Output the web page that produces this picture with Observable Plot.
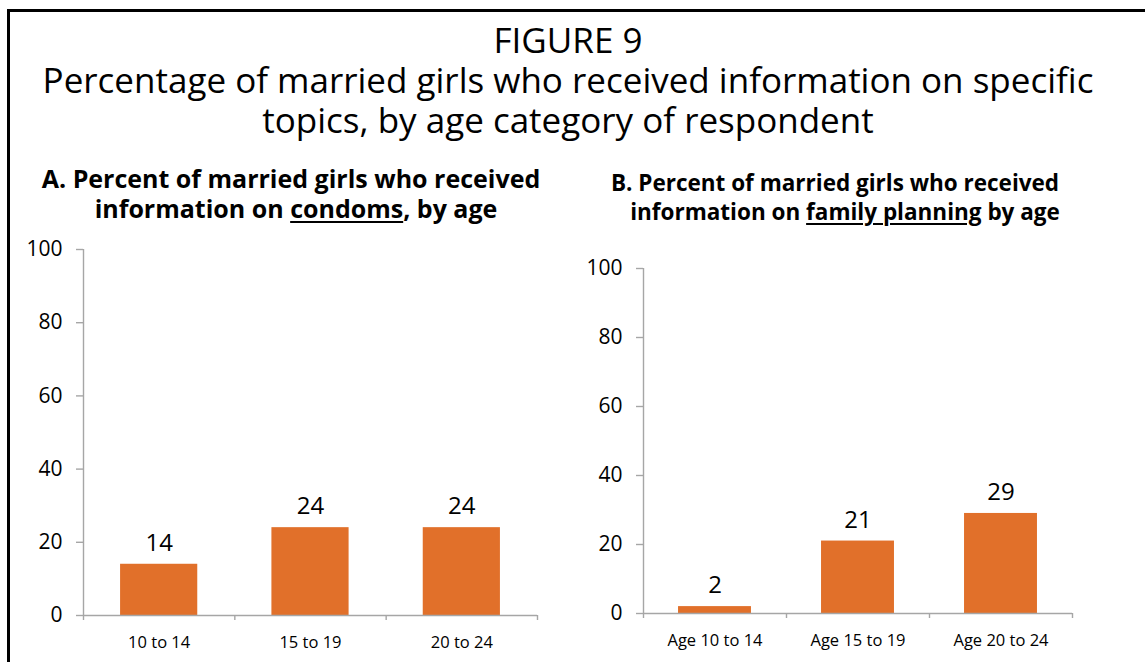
<!DOCTYPE html>
<html>
<head>
<meta charset="utf-8">
<script src="https://cdn.jsdelivr.net/npm/d3@7"></script>
<script src="https://cdn.jsdelivr.net/npm/@observablehq/plot@0.6"></script>
<style>
  html, body { margin: 0; padding: 0; background: #fff; overflow: hidden; }
  #page { position: relative; width: 1145px; height: 662px; overflow: hidden; font-family: "Open Sans", sans-serif; color: #000; }
  #frame { position: absolute; left: 7px; top: 9px; width: 1300px; height: 1000px; border: 3px solid #000; box-sizing: border-box; }
  .t { position: absolute; white-space: nowrap; text-align: center; }
  #head { left: 0; width: 1136px; top: 20px; font-size: 35px; line-height: 40px; }
  .phA { font-size: 25px; font-weight: bold; line-height: 30px; width: 600px; left: -7px; top: 163.3px; }
  .phB { font-size: 22.5px; font-weight: bold; line-height: 29px; width: 600px; left: 540px; top: 167.8px; }
  .t u { text-decoration-thickness: 2px; text-underline-offset: 3px; }
  .s { position: relative; }
  .chart { position: absolute; }
  #chartA { left: 0; top: 230px; }
  #chartB { left: 560px; top: 240px; }
</style>
</head>
<body>
<div id="page">
  <div id="frame"></div>
  <div class="t" id="head">FIGURE 9<br>Percentage of married girls who received information on specific<br>topics, by age category of respondent</div>
  <div class="t phA"><span class="s" style="left:-2px">A. Percent of married girls who received</span><br><span class="s" style="left:3px">information on <u>condoms</u>, by age</span></div>
  <div class="t phB"><span class="s" style="left:-5px">B. Percent of married girls who received</span><br><span class="s" style="left:5px">information on <u>family planning</u> by age</span></div>
  <div class="chart" id="chartA"></div>
  <div class="chart" id="chartB"></div>
</div>
<script>
// ---- Data ----
const categoriesA = ["10 to 14", "15 to 19", "20 to 24"];
const valuesA = [14, 24, 24];
const categoriesB = ["Age 10 to 14", "Age 15 to 19", "Age 20 to 24"];
const valuesB = [2, 21, 29];
const yTicks = [0, 20, 40, 60, 80, 100];

const barColor = "#E1702A";
const axisGray = "#A6A6A6";
const barWidth = 0.51;

function makeChart(cats, vals, dims) {
  const data = cats.map((c, i) => ({i, c, v: vals[i]}));
  return Plot.plot({
    width: dims.width,
    height: dims.height,
    marginLeft: dims.marginLeft,
    marginRight: dims.marginRight,
    marginTop: dims.marginTop,
    marginBottom: dims.marginBottom,
    x: {domain: [0, cats.length], axis: null},
    y: {domain: [0, 100], axis: null},
    style: {fontFamily: "Open Sans", background: "transparent", color: "#000", overflow: "visible"},
    marks: [
      Plot.rectY(data, {
        x1: d => d.i + (1 - barWidth) / 2,
        x2: d => d.i + (1 + barWidth) / 2,
        y1: 0, y2: "v", fill: barColor
      }),
      Plot.ruleY([0], {stroke: axisGray, strokeWidth: 1.4}),
      Plot.ruleX([0], {y1: 0, y2: 100, stroke: axisGray, strokeWidth: 1.4}),
      Plot.axisY({ticks: yTicks, label: null, tickSize: 7, tickPadding: 14, stroke: axisGray, strokeWidth: 1.4, fontSize: 21, fill: "#000"}),
      Plot.axisX({ticks: d3.range(cats.length + 1), label: null, tickSize: 5, tickFormat: () => "", stroke: axisGray, strokeWidth: 1.4}),
      Plot.text(data, {x: d => d.i + 0.5, y: 0, text: "c", dy: 27, fontSize: 16.5, fill: "#000"}),
      Plot.text(data, {x: d => d.i + 0.5, y: "v", text: d => String(d.v), dy: -21, fontSize: 24, fill: "#000"})
    ]
  });
}

document.getElementById("chartA").append(makeChart(categoriesA, valuesA, {
  width: 560, height: 432, marginLeft: 83, marginRight: 23, marginTop: 19, marginBottom: 47
}));
document.getElementById("chartB").append(makeChart(categoriesB, valuesB, {
  width: 585, height: 422, marginLeft: 83, marginRight: 73, marginTop: 28, marginBottom: 49
}));
</script>
</body>
</html>
